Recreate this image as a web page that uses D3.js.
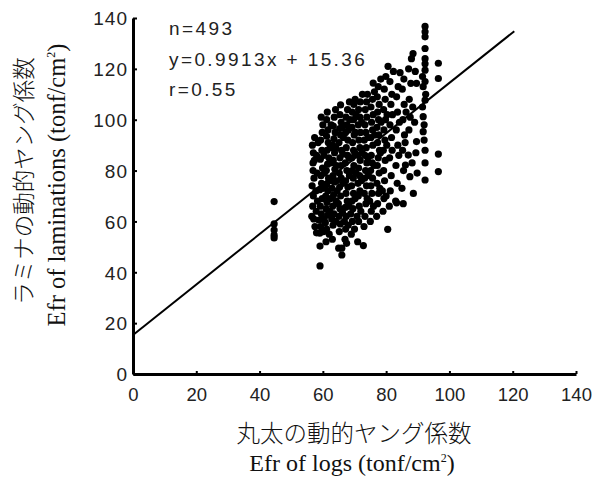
<!DOCTYPE html>
<html><head><meta charset="utf-8">
<script src="https://cdn.jsdelivr.net/npm/d3@7"></script>
<style>
html,body{margin:0;padding:0;background:#fff;}
svg{display:block;}
.tick text{font-family:"Liberation Sans Narrow","Arial Narrow","Liberation Sans",sans-serif;fill:#222;}
</style>
</head><body>
<svg id="chart" width="592" height="482"></svg>
<script>
// ---- data ----
const xTicks = [0, 20, 40, 60, 80, 100, 120, 140];
const yTicks = [0, 20, 40, 60, 80, 100, 120, 140];
const stats = ["n=493", "y=0.9913x + 15.36", "r=0.55"];
const slope = 0.9913, intercept = 15.36;
const lineRange = [0, 120.5];
// Efr of logs (x) and Efr of laminations (y), tonf/cm2
const points = [
[44.6,67.8],[44.6,59],[44.6,56.6],[44.6,54.6],[44.6,53.5],
[56.5,62],[56.8,66],[57,70],[56.6,74],[57.2,77],[56.9,80],[57.3,84],[57,87],[56.7,90],[57.4,93],[57.5,58],[57.8,72],[58,86],[57.9,64],[58.2,79],[58.3,68],[58.5,91],[56.9,83],[57.1,61],[58,55.5],
[59.1,42.5],[59.1,50.3],[59,55.4],[59.3,58],[58.8,60.5],[59.5,63],[59.2,66],[59.8,69],[59,72.5],[59.6,75],[59.4,78],[59.9,81],[59.2,84.5],[59.7,88],[59.3,92],[59.8,95],[60,98],[59.5,101],[60.2,56],[60.4,61],[60.1,73],[60.3,86],[60.5,79],
[61,52],[61.2,57],[60.8,59.5],[61.5,62.5],[61,65],[61.3,67.5],[60.9,70],[61.6,72],[61.2,74.5],[61.8,77],[61.1,80],[61.5,82.5],[61.9,85],[61.3,88],[61.7,91],[61.2,93.5],[61.6,96],[61.2,100],[61.4,103],[62,55],[62.2,64],[62.4,69],[62.1,76],[62.5,83],[62.3,89],[62.6,98],
[63,53],[63.2,58.5],[62.8,61],[63.5,63],[63.1,66],[63.4,70.5],[62.9,73],[63.6,75.5],[63.2,78],[63.8,80.5],[63.3,84],[63.7,87],[63.1,90],[63.5,92.5],[63.9,95],[63.3,97.5],[63.6,101],[64,60],[64.2,68],[64.3,82],[64.1,89],[64,104],[64.5,72],[64.4,76],
[65,49.5],[65.2,56],[65.5,59],[65.1,62],[65.4,65],[64.9,67],[65.6,70],[65.3,73.5],[65.8,77],[65.2,79],[65.7,82],[65.4,85],[65.9,88],[65.1,91],[65.6,94],[65.3,96.5],[65.8,99],[65.4,102],[65.6,105.8],[66,46.8],[66,49.5],[66.2,63.5],[66.4,75],[66.3,86.5],[66.5,93],[66.1,97],
[67,53],[67.5,51.4],[67.2,57],[66.8,60],[67.4,62],[67.1,65.5],[67.7,68],[67.3,71],[67.9,73.5],[67.2,76],[67.6,80],[67.1,83],[67.8,86],[67.4,89],[67.9,92],[67.2,95],[67.6,98],[67.3,101],[67.8,104],[68,58.5],[68.2,66],[68.4,78],[68.3,85],[68.1,96],[68.5,100],[68.4,107],
[69,55],[69.3,60],[68.8,63],[69.5,65],[69.2,68],[69.7,71],[69.1,74],[69.6,77],[69.3,80],[69.8,82],[69.2,85],[69.7,88],[69.4,91],[69.9,94],[69.2,97],[69.7,100],[69.3,103],[69.8,106],[70,57],[70.2,69],[70.4,79],[70.1,87],[70.3,95],[70.5,102],[70.2,108],
[71,52],[71.3,60],[70.8,62],[71.5,66],[71.2,70],[71.7,72],[71.1,75],[71.6,78],[71.3,81],[71.8,84],[71.2,86],[71.7,89],[71.4,92],[71.9,95],[71.2,98],[71.7,101],[71.3,104],[71.8,107],[72,64],[72.2,76],[72.4,87],[72.3,99],[72.5,110],[72.8,50.5],
[73,58],[73.3,62],[73.6,67],[73.1,71],[73.8,74],[73.2,77],[73.5,80],[73.9,83],[73.3,86],[73.7,89],[73.1,92],[73.6,95],[73.3,98],[73.9,101],[73.4,104],[73.8,107],[74,69],[74.2,85],[74.3,93],[74.1,110],[74.4,78],
[75,60],[75.3,64],[74.8,68],[75.5,71],[75.2,74],[75.7,77],[75.1,80],[75.6,83],[75.3,86],[75.8,90],[75.2,93],[75.7,96],[75.4,99],[75.9,102],[75.2,105],[75.7,108],[75.9,114.4],[76,66],[76.2,82],[76.4,94],[76.3,111],
[77,62],[77.3,67],[77.6,71],[77.1,75],[77.8,79],[77.2,82],[77.5,85],[77.9,88],[77.3,91],[77.7,94],[77.1,97],[77.6,100],[77.3,103],[77.8,106],[77.5,113],[77.2,109],[78,73],[78.2,87],[78.4,99],[78.3,116],
[79,64],[79.3,69],[78.8,72],[79.5,76],[79.2,80],[79.7,84],[79.1,88],[79.6,92],[79.3,96],[79.8,100],[79.2,104],[79.7,108],[79.4,112],[79.9,117],[80,70],[80.2,90],[80.5,56.9],[80.6,121],[80.3,102],
[81,66],[81.3,72],[81.6,78],[81.1,85],[81.7,93],[81.2,98],[81.5,106],[81.8,110],[81.2,115],[82.3,119],[81.9,88],[82,102],
[83,68],[83.3,67.3],[83.5,75],[83.1,82],[83.7,90],[83.2,96],[83.6,103],[83.3,109],[83.8,113],[84.4,118.5],[84,86],[84.2,99],
[85.4,67],[85,73],[85.5,80],[85.2,88],[85.8,94],[85.3,100],[85.7,106],[85.1,112],[85.6,116],[86,91],[86.1,82.2],[86.3,103],
[87,86.1],[87.5,77.6],[87.2,96],[87.6,101],[87.3,108],[87.8,114.3],[87.1,120],[88.5,126],[88,124],[88.6,71],[88.2,83],[88.4,105],
[89.6,91.4],[89.6,114.3],[89.2,119],[89,99],[89.4,87],[89.8,79],
[92.3,136.7],[92.3,134.6],[92.3,132.6],[92.3,128],[92.3,124],[92.3,122],[92.3,119.5],[92.3,115],[91.7,113],[92.3,107.7],[91.7,101.2],[91.7,95.3],[92.3,88],[92.3,83],[92.3,76.3],[92,92],[92.5,110],[91.5,105],[91.5,117],[92,98],
[96.5,122.2],[96.5,116.2],[96.5,86.5],[96.5,79.6]
];

// ---- layout ----
const svg = d3.select("#chart");
const x = d3.scaleLinear().domain([0, 140]).range([133, 576]);
const y = d3.scaleLinear().domain([0, 140]).range([374, 18]);

// regression line
svg.append("line")
  .attr("x1", x(lineRange[0])).attr("y1", y(slope*lineRange[0]+intercept))
  .attr("x2", x(lineRange[1])).attr("y2", y(slope*lineRange[1]+intercept))
  .attr("stroke", "#000").attr("stroke-width", 2);

// points
svg.append("g").selectAll("circle").data(points).join("circle")
  .attr("cx", d => x(d[0])).attr("cy", d => y(d[1]))
  .attr("r", 3.6).attr("fill", "#000");

// axes
const xAxis = svg.append("g").attr("transform", `translate(0,${y(0)})`)
  .call(d3.axisBottom(x).tickValues(xTicks).tickSizeInner(-3).tickSizeOuter(0).tickPadding(14));
const yAxis = svg.append("g").attr("transform", `translate(${x(0)},0)`)
  .call(d3.axisLeft(y).tickValues(yTicks).tickSizeInner(-4).tickSizeOuter(0).tickPadding(5));
[xAxis, yAxis].forEach(g => {
  g.select(".domain").attr("stroke", "#000").attr("stroke-width", 3);
  g.selectAll(".tick line").attr("stroke", "#000").attr("stroke-width", 2);
  g.selectAll(".tick text").attr("font-size", 19).attr("fill", "#222");
});
yAxis.selectAll(".tick text").attr("dy", "0.36em").attr("letter-spacing", 1);
xAxis.selectAll(".tick text").attr("font-size", 18.5);

// stats text
svg.append("g").selectAll("text").data(stats).join("text")
  .attr("x", 169).attr("y", (d, i) => 35 + i * 30.5)
  .attr("font-family", "'Liberation Sans Narrow','Arial Narrow',sans-serif")
  .attr("font-size", 19).attr("letter-spacing", 2.4).attr("fill", "#222").text(d => d);

// axis titles
const jp = "'Noto Sans CJK JP',sans-serif";
const serif = "'Liberation Serif','Times New Roman',serif";
svg.append("text").attr("transform", "translate(32,181) rotate(-90)")
  .attr("text-anchor", "middle").attr("font-family", jp).attr("font-weight", 300)
  .attr("font-size", 22.5).attr("fill", "#111").text("ラミナの動的ヤング係数");
const yt = svg.append("text").attr("transform", "translate(65,185) rotate(-90)")
  .attr("text-anchor", "middle").attr("font-family", serif)
  .attr("font-size", 24.5).attr("fill", "#111");
yt.append("tspan").text("Efr of laminations (tonf/cm");
yt.append("tspan").attr("font-size", 12).attr("dy", -10).text("2");
yt.append("tspan").attr("dy", 10).text(")");

svg.append("text").attr("x", 354).attr("y", 442)
  .attr("text-anchor", "middle").attr("font-family", jp).attr("font-weight", 300)
  .attr("font-size", 23.5).attr("fill", "#111").text("丸太の動的ヤング係数");
const xt = svg.append("text").attr("x", 352).attr("y", 471)
  .attr("text-anchor", "middle").attr("font-family", serif)
  .attr("font-size", 24).attr("fill", "#111");
xt.append("tspan").text("Efr of logs (tonf/cm");
xt.append("tspan").attr("font-size", 12).attr("dy", -9).text("2");
xt.append("tspan").attr("dy", 9).text(")");
</script>
</body></html>
